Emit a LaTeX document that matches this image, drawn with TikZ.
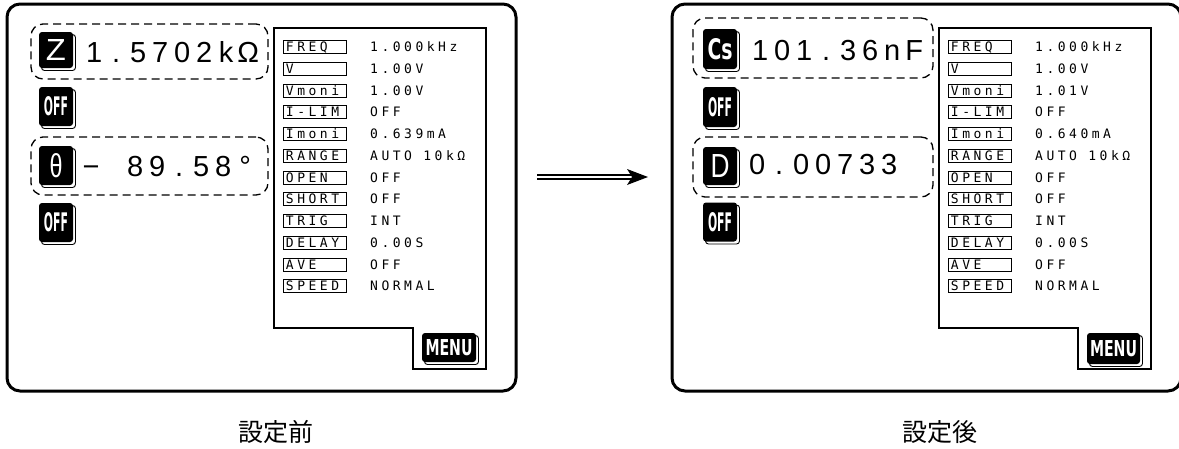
\documentclass[tikz,border=0pt]{standalone}
\usepackage{fontspec}
\usepackage{graphicx}
\newfontfamily\readfont{Liberation Sans}
\newfontfamily\lcdfont[LetterSpace=27]{DejaVu Sans Mono}
\newfontfamily\btnfont{DejaVu Sans}
\newfontfamily\cjkfont{Noto Sans CJK JP}
\makeatletter
\newcommand\cellrow[1]{\@tfor\cellitem:=#1\do{\makebox[22pt]{\cellitem}}}
\makeatother
\tikzset{
  screen/.style={draw, line width=3pt, rounded corners=13pt, minimum width=509pt, minimum height=387pt, inner sep=0pt},
  dbox/.style={draw, dash pattern=on 8pt off 5pt, line width=1.3pt, rounded corners=12pt, inner sep=0pt},
  btn/.style={fill=black, rounded corners=3pt, inner sep=0pt, text=white,
    preaction={draw, line width=0.9pt, rounded corners=3pt, transform canvas={shift={(2.5pt,-2.5pt)}}}},
  labbox/.style={draw, line width=0.9pt, anchor=west, minimum width=63pt, minimum height=13pt, inner sep=0pt,
    text height=9.4pt, text depth=0pt, font=\lcdfont\fontsize{13}{13}\selectfont},
  valtxt/.style={anchor=west, inner sep=0pt, text height=9.4pt, text depth=0pt, font=\lcdfont\fontsize{13}{13}\selectfont},
  readout/.style={anchor=west, inner sep=0pt, font=\readfont\fontsize{29}{29}\selectfont},
  panel/.style={line width=1.8pt, line join=miter},
  caption/.style={inner sep=0pt, font=\cjkfont\fontsize{25}{25}\selectfont},
}
\newcommand\screenbody[2]{%
  \node[screen] (scr) at (261.5,197.5) {};
  \draw[panel] (274,28) -- (486,28) -- (486,369) -- (413,369) -- (413,328) -- (274,328) -- cycle;
  \foreach \lab/\val [count=\i from 0] in {FREQ/1.000kHz, V/1.00V, Vmoni/#1, I-LIM/OFF, Imoni/#2,
      RANGE/AUTO 10kΩ, OPEN/OFF, SHORT/OFF, TRIG/INT, DELAY/0.00S, AVE/OFF, SPEED/NORMAL}{
    \node[labbox] (lab\i) at (283,47+21.75*\i) {\makebox[58pt][l]{\lab}};
    \node[valtxt] (val\i) at (370,47+21.75*\i) {\val};
  }
}
\begin{document}
\begin{tikzpicture}[x=1pt,y=-1pt]
\useasboundingbox (0,0) rectangle (1179,448);
% ---------------- left screen ----------------
\begin{scope}[name prefix=L-]
  \screenbody{1.00V}{0.639mA}
  \node[dbox, minimum width=237pt, minimum height=55pt] (d1) at (149.5,51.5) {};
  \node[dbox, minimum width=237pt, minimum height=58pt] (d2) at (149.5,166) {};
  \node[btn, minimum width=34pt, minimum height=36pt] (bz) at (56,50) {\resizebox{20pt}{21pt}{\readfont Z}};
  \node[btn, minimum width=34pt, minimum height=39pt] (off1) at (56,106.5) {\resizebox{24pt}{19pt}{\btnfont\bfseries OFF}};
  \node[btn, minimum width=34pt, minimum height=39pt] (bth) at (56,165.5) {\resizebox{13pt}{24pt}{\readfont θ}};
  \node[btn, minimum width=34pt, minimum height=39pt] (off2) at (56,222.5) {\resizebox{24pt}{19pt}{\btnfont\bfseries OFF}};
  \node[btn, minimum width=54pt, minimum height=29pt] (menu) at (449,347.5) {\resizebox{47pt}{16pt}{\btnfont\bfseries MENU}};
  \node[readout] (r1) at (83,52) {\cellrow{1.5702kΩ}};
  \node[readout] (r2) at (80,167) {\cellrow{−{}89.58°}};
\end{scope}
% ---------------- right screen ----------------
\begin{scope}[shift={(665,0)}, name prefix=R-]
  \screenbody{1.01V}{0.640mA}
  \node[dbox, minimum width=240pt, minimum height=60pt] (d1) at (148,48) {};
  \node[dbox, minimum width=240pt, minimum height=60pt] (d2) at (148,167) {};
  \node[btn, minimum width=34pt, minimum height=40pt] (bcs) at (55,49) {\resizebox{25pt}{21pt}{\btnfont\bfseries Cs}};
  \node[btn, minimum width=34pt, minimum height=40pt] (off1) at (55,107) {\resizebox{24pt}{19pt}{\btnfont\bfseries OFF}};
  \node[btn, minimum width=34pt, minimum height=38pt] (bd) at (55,166) {\resizebox{19pt}{23pt}{\readfont D}};
  \node[btn, minimum width=34pt, minimum height=39pt] (off2) at (55,222) {\resizebox{24pt}{19pt}{\btnfont\bfseries OFF}};
  \node[btn, minimum width=53pt, minimum height=31pt] (menu) at (448.5,348.5) {\resizebox{47pt}{16pt}{\btnfont\bfseries MENU}};
  \node[readout] (r1) at (84,51) {\cellrow{101.36nF}};
  \node[readout] (r2) at (81,165) {\cellrow{0.00733}};
\end{scope}
% ---------------- arrow ----------------
\coordinate (arrS) at (537,177);
\coordinate (arrE) at (648,177);
\draw[line width=1.5pt, double, double distance=2.2pt] (arrS) -- ([xshift=-14pt]arrE);
\fill (arrE) -- ++(-21pt,8pt) -- ++(5pt,-8pt) -- ++(-5pt,-8pt) -- cycle;
% ---------------- captions ----------------
\node[caption] (capL) at (276,432) {設定前};
\node[caption] (capR) at (940,432) {設定後};
\end{tikzpicture}
\end{document}
